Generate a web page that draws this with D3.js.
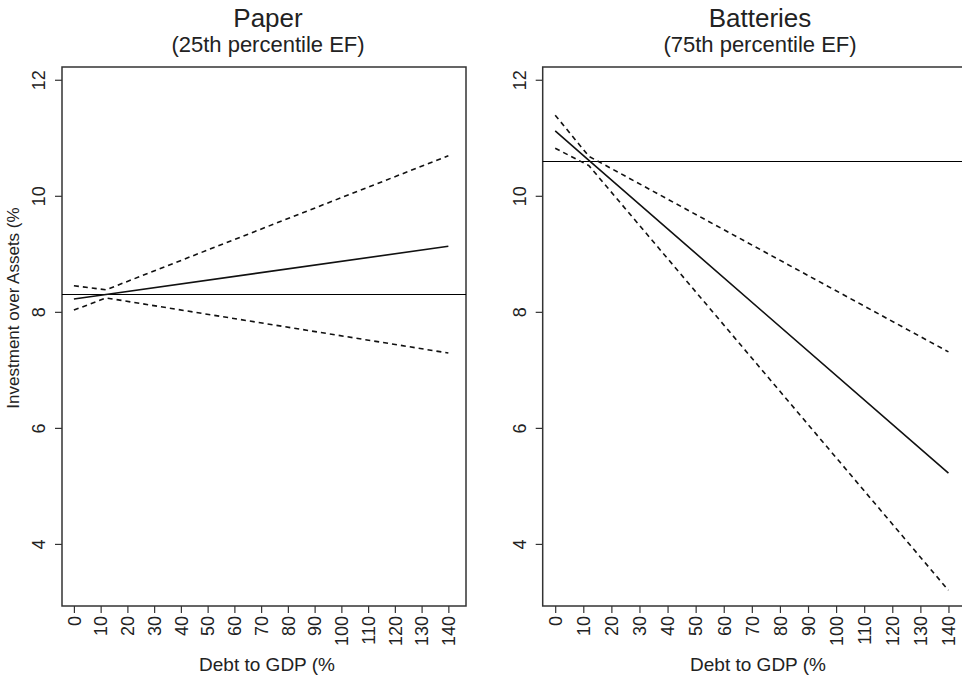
<!DOCTYPE html>
<html>
  <head>
    <title>Debt to GDP and investment</title>
    <script src="https://cdn.jsdelivr.net/npm/d3@7"></script>
    <style type="text/css">

html, body {
  margin: 0;
  background: #fff;
}

svg {
  display: block;
  font-family: "Liberation Sans", Arial, sans-serif;
}

.box {
  fill: none;
  stroke: #333;
  stroke-width: 1.5;
}

.tick line {
  stroke: #333;
  stroke-width: 1.2;
}

    </style>
  </head>
  <body>
    <script type="text/javascript">

var xTicks = [0, 10, 20, 30, 40, 50, 60, 70, 80, 90, 100, 110, 120, 130, 140];
var yTicks = [4, 6, 8, 10, 12];

var titles = ["Paper", "Batteries"];
var subtitles = ["(25th percentile EF)", "(75th percentile EF)"];

// debt to GDP points where the lines are drawn
var debt = [0, 12, 140];

var paperFit = [8.22, 8.30, 9.13];
var paperUpper = [8.45, 8.38, 10.69];
var paperLower = [8.03, 8.24, 7.29];
var paperRef = 8.30;

var batteriesFit = [11.12, 10.61, 5.22];
var batteriesUpper = [11.39, 10.68, 7.31];
var batteriesLower = [10.82, 10.52, 3.20];
var batteriesRef = 10.60;

var panels = [
  {fit: paperFit, upper: paperUpper, lower: paperLower, ref: paperRef, left: 62, right: 466},
  {fit: batteriesFit, upper: batteriesUpper, lower: batteriesLower, ref: batteriesRef, left: 542.7, right: 967}
];

var width = 962, height = 681;
var plotTop = 67, plotBottom = 606;

var svg = d3.select("body")
  .append("svg")
    .attr("width", width)
    .attr("height", height);

var y = d3.scaleLinear()
    .domain([2.93, 12.22])
    .range([plotBottom, plotTop]);

panels.forEach(function(p, i) {
  var x = d3.scaleLinear()
      .domain([-4.45, 146.6])
      .range([p.left, p.right]);

  var g = svg.append("g");

  // x axis
  var xa = g.append("g")
      .attr("transform", "translate(0," + plotBottom + ")")
      .call(d3.axisBottom(x).tickValues(xTicks).tickSize(7).tickFormat(""));
  xa.select(".domain").remove();
  xa.selectAll(".tick").append("text")
      .attr("transform", "translate(0,10) rotate(-90)")
      .attr("text-anchor", "end")
      .attr("dy", "0.35em")
      .attr("fill", "#222")
      .style("font-size", "18px")
      .text(function(d) { return d; });

  // y axis
  var ya = g.append("g")
      .attr("transform", "translate(" + p.left + ",0)")
      .call(d3.axisLeft(y).tickValues(yTicks).tickSize(7).tickFormat(""));
  ya.select(".domain").remove();
  ya.selectAll(".tick").append("text")
      .attr("transform", "translate(-17,0) rotate(-90)")
      .attr("text-anchor", "middle")
      .attr("fill", "#222")
      .style("font-size", "18px")
      .text(function(d) { return d; });

  g.append("rect")
      .attr("class", "box")
      .attr("x", p.left)
      .attr("y", plotTop)
      .attr("width", p.right - p.left)
      .attr("height", plotBottom - plotTop);

  var line = d3.line()
      .x(function(d, j) { return x(debt[j]); })
      .y(function(d) { return y(d); });

  var ry = Math.round(y(p.ref)) + 0.5;
  g.append("line")
      .attr("x1", p.left).attr("x2", p.right)
      .attr("y1", ry).attr("y2", ry)
      .attr("stroke", "#000")
      .attr("stroke-width", 1.1);

  g.append("path")
      .attr("d", line(p.fit))
      .attr("fill", "none")
      .attr("stroke", "#111")
      .attr("stroke-width", 1.6);

  [p.upper, p.lower].forEach(function(band) {
    g.append("path")
        .attr("d", line(band))
        .attr("fill", "none")
        .attr("stroke", "#111")
        .attr("stroke-width", 1.6)
        .attr("stroke-dasharray", "5,4");
  });

  var cx = i == 0 ? 268 : 760;

  g.append("text")
      .attr("x", cx).attr("y", 27)
      .attr("text-anchor", "middle")
      .attr("fill", "#222")
      .style("font-size", "26px")
      .text(titles[i]);

  g.append("text")
      .attr("x", cx).attr("y", 52)
      .attr("text-anchor", "middle")
      .attr("fill", "#222")
      .style("font-size", "22px")
      .text(subtitles[i]);

  g.append("text")
      .attr("x", i == 0 ? 267 : 758).attr("y", 671)
      .attr("text-anchor", "middle")
      .attr("fill", "#222")
      .style("font-size", "19px")
      .text("Debt to GDP (%");
});

svg.append("text")
    .attr("transform", "translate(19,308) rotate(-90)")
    .attr("text-anchor", "middle")
    .attr("fill", "#222")
    .style("font-size", "17px")
    .text("Investment over Assets (%");

    </script>
  </body>
</html>
